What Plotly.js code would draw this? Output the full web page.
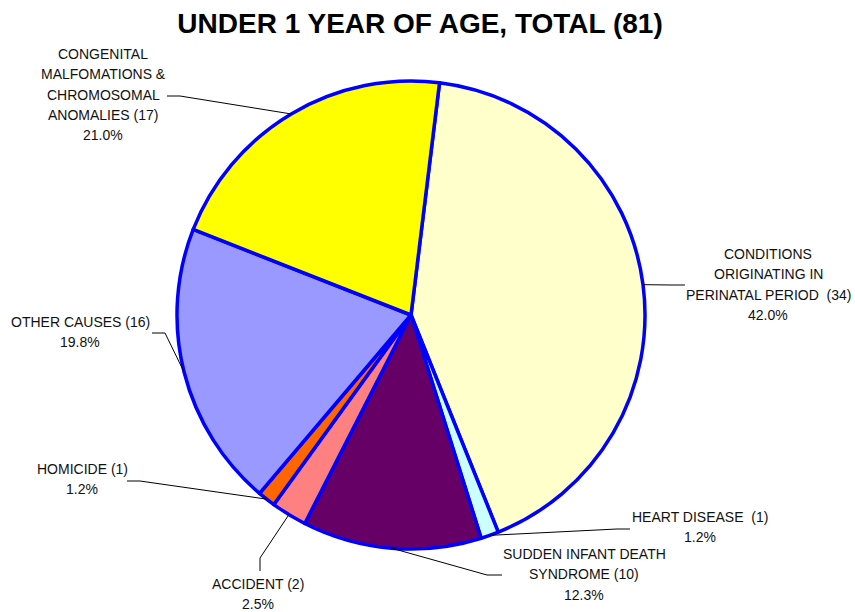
<!DOCTYPE html>
<html>
<head>
<meta charset="utf-8">
<script src="https://cdn.plot.ly/plotly-3.0.1.min.js"></script>
<style>
  html, body { margin: 0; padding: 0; background: #fff; }
  #chart { width: 855px; height: 612px; }
</style>
</head>
<body>
<div id="chart"></div>
<script>
// data, clockwise from the top
const causes = [
  'CONDITIONS ORIGINATING IN PERINATAL PERIOD',
  'HEART DISEASE',
  'SUDDEN INFANT DEATH SYNDROME',
  'ACCIDENT',
  'HOMICIDE',
  'OTHER CAUSES',
  'CONGENITAL MALFOMATIONS & CHROMOSOMAL ANOMALIES'
];
const deaths = [34, 1, 10, 2, 1, 16, 17];
const sliceColors = ['#FFFFCC', '#CCFFFF', '#660066', '#FF8080', '#FF6600', '#9999FF', '#FFFF00'];

// how each label breaks into lines (last name line gets the count appended)
const nameLines = [
  ['CONDITIONS', 'ORIGINATING IN', 'PERINATAL PERIOD  '],
  ['HEART DISEASE  '],
  ['SUDDEN INFANT DEATH', 'SYNDROME '],
  ['ACCIDENT '],
  ['HOMICIDE '],
  ['OTHER CAUSES '],
  ['CONGENITAL', 'MALFOMATIONS &', 'CHROMOSOMAL', 'ANOMALIES ']
];

const W = 855, H = 612;
const cx = 411, cy = 315, R = 234;
const rot = 7;
const total = deaths.reduce((a, b) => a + b, 0);

// label placement in pixels: text centre x, first line y, leader elbow and end
const labelPos = [
  { x: 768, y: 254, elbow: [672, 285], end: [685, 285] },
  { x: 700, y: 517, elbow: [617, 529], end: [630, 529] },
  { x: 584, y: 554, elbow: [487, 575], end: [502, 575] },
  { x: 258, y: 584, elbow: [260, 558], end: [260, 571] },
  { x: 82,  y: 469, elbow: [140, 481], end: [127, 481] },
  { x: 80,  y: 322, elbow: [165, 333], end: [152, 333] },
  { x: 103, y: 54,  elbow: [180, 96],  end: [167, 96] }
];

const px = v => v / W;
const py = v => 1 - v / H;

const annotations = [];
const shapes = [];
let cum = 0;
deaths.forEach((d, i) => {
  const mid = (rot + 360 * (cum + d / 2) / total) * Math.PI / 180;
  cum += d;
  const tip = [cx + R * Math.sin(mid), cy - R * Math.cos(mid)];
  const p = labelPos[i];
  shapes.push({
    type: 'path', xref: 'paper', yref: 'paper',
    path: 'M ' + px(tip[0]) + ',' + py(tip[1]) +
          ' L ' + px(p.elbow[0]) + ',' + py(p.elbow[1]) +
          ' L ' + px(p.end[0]) + ',' + py(p.end[1]),
    line: { color: '#000', width: 1 }
  });
  const lines = nameLines[i].slice();
  lines[lines.length - 1] += '(' + d + ')';
  lines.push((d / total * 100).toFixed(1) + '%');
  lines.forEach((t, k) => {
    annotations.push({
      xref: 'paper', yref: 'paper',
      x: px(p.x), y: py(p.y + k * 20.3),
      xanchor: 'center', yanchor: 'middle',
      text: t, showarrow: false,
      font: { family: 'Liberation Sans, Arial, sans-serif', size: 14, color: '#111' }
    });
  });
});

const trace = {
  type: 'pie',
  labels: causes,
  values: deaths,
  sort: false,
  direction: 'clockwise',
  rotation: rot,
  textinfo: 'none',
  hoverinfo: 'label+value+percent',
  marker: { colors: sliceColors, line: { color: '#0000FF', width: 3.5 } },
  domain: { x: [px(cx - R), px(cx + R)], y: [py(cy + R), py(cy - R)] },
  showlegend: false
};

const layout = {
  width: W, height: H,
  margin: { l: 0, r: 0, t: 0, b: 0 },
  paper_bgcolor: '#fff',
  showlegend: false,
  title: {
    text: 'UNDER 1 YEAR OF AGE, TOTAL (81)',
    x: px(420), xanchor: 'center',
    y: py(23), yanchor: 'middle',
    font: { family: 'Liberation Sans, Arial, sans-serif', size: 28, color: '#000', weight: 'bold' }
  },
  annotations: annotations,
  shapes: shapes
};

Plotly.newPlot('chart', [trace], layout, { displayModeBar: false });
</script>
</body>
</html>
